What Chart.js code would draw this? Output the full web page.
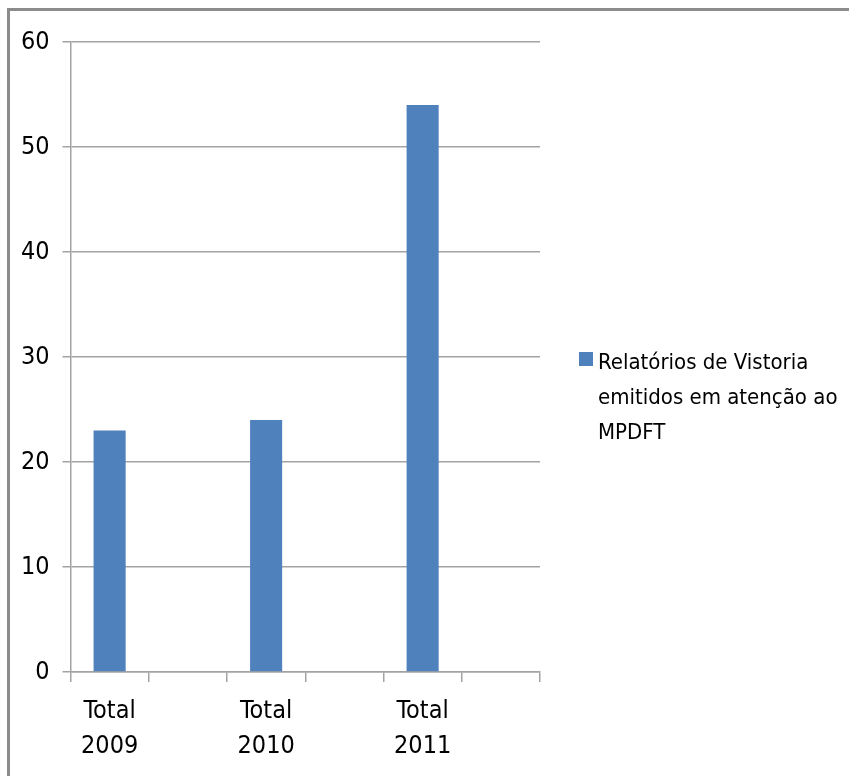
<!DOCTYPE html>
<html lang="pt">
<head>
<meta charset="utf-8">
<title>Relatórios de Vistoria</title>
<script src="https://cdn.jsdelivr.net/npm/chart.js@4/dist/chart.umd.min.js"></script>
<style>
  html, body { margin: 0; padding: 0; background: #fff; overflow: hidden; }
  #quadro { position: relative; width: 849px; height: 776px; }
  #moldura {
    position: absolute; left: 7px; top: 8px; width: 900px; height: 800px;
    border: 3px solid #8c8c8c; box-sizing: border-box; pointer-events: none;
  }
  #legenda {
    position: absolute; left: 579px; top: 344px;
    font-family: 'Liberation Sans Narrow', 'DejaVu Sans Condensed', sans-serif;
    font-size: 22px; line-height: 35px; color: #000; white-space: nowrap;
  }
  #legenda .cor { position: absolute; left: 0; top: 8px; width: 14px; height: 14px; }
  #legenda .texto { margin-left: 19px; }
</style>
</head>
<body>
<div id="quadro">
  <canvas id="grafico" width="849" height="776"></canvas>
  <div id="moldura"></div>
  <div id="legenda"><span class="cor"></span><div class="texto"></div></div>
</div>
<script>
// ── Dados ─────────────────────────────────────
const categorias = [['Total', '2009'], '', ['Total', '2010'], '', ['Total', '2011'], ''];
const relatorios = [23, null, 24, null, 54, null];
const serieNome = 'Relatórios de Vistoria emitidos em atenção ao MPDFT';
const serieLinhas = ['Relatórios de Vistoria', 'emitidos em atenção ao', 'MPDFT'];
const eixoY = { min: 0, max: 60, passo: 10 };

const corBarra = '#4f81bd';
const corGrade = '#a3a3a3';
const fonte = "'Liberation Sans Narrow', 'DejaVu Sans Condensed', sans-serif";

// ── Legenda em HTML (texto quebrado em três linhas) ──
const leg = document.getElementById('legenda');
leg.querySelector('.cor').style.background = corBarra;
leg.querySelector('.texto').innerHTML = serieLinhas.join('<br>');

// ── Gráfico de barras ─────────────────────────
new Chart(document.getElementById('grafico'), {
    type: 'bar',
    data: {
        labels: categorias,
        datasets: [{
            label: serieNome,
            data: relatorios,
            backgroundColor: corBarra,
            borderWidth: 0,
            categoryPercentage: 1,
            barPercentage: 0.41,
        }]
    },
    options: {
        responsive: false,
        animation: false,
        layout: { padding: { top: 42, right: 309, left: 0, bottom: 0 } },
        plugins: {
            legend: { display: false },
            tooltip: { enabled: false }
        },
        scales: {
            x: {
                offset: true,
                grid: {
                    offset: true,
                    drawOnChartArea: false,
                    drawTicks: true,
                    tickLength: 10,
                    color: corGrade,
                    lineWidth: 1.5,
                },
                border: { color: corGrade, width: 1.5 },
                ticks: {
                    autoSkip: false,
                    maxRotation: 0,
                    padding: 12,
                    color: '#000',
                    font: { family: fonte, size: 25, lineHeight: 1.4 }
                },
                afterFit: (s) => { s.height = 104; }
            },
            y: {
                min: eixoY.min,
                max: eixoY.max,
                grid: { color: corGrade, lineWidth: 1.5, tickLength: 8 },
                border: { color: corGrade, width: 1.5 },
                ticks: {
                    stepSize: eixoY.passo,
                    padding: 13,
                    color: '#000',
                    font: { family: fonte, size: 25 }
                },
                afterFit: (s) => { s.width = 70.5; }
            }
        }
    }
});
</script>
</body>
</html>
